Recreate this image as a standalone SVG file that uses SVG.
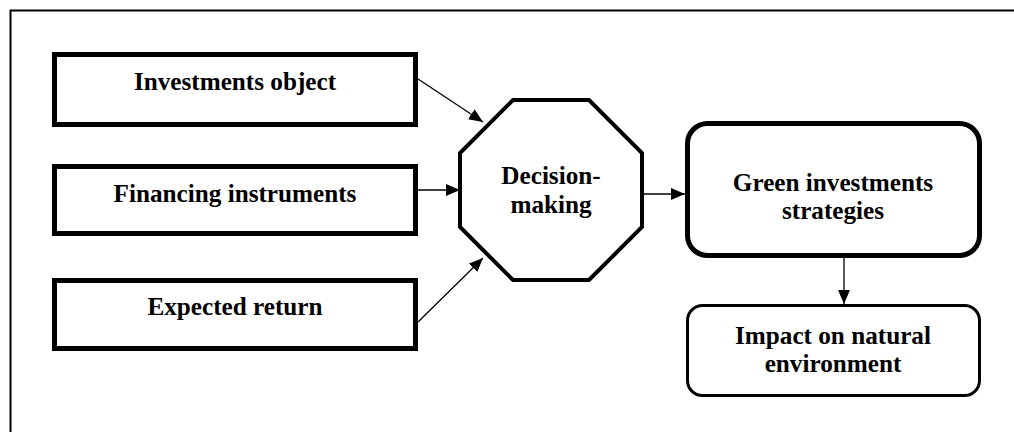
<svg xmlns="http://www.w3.org/2000/svg" width="1014" height="432" viewBox="0 0 1014 432">
<style>
text{font-family:"Liberation Serif","Times New Roman",serif;font-weight:bold;font-size:25.2px;fill:#000;text-anchor:middle}
.box{fill:#fff;stroke:#000;stroke-width:5}
.conn line{stroke:#000;stroke-width:1.3;fill:none}
</style>
<defs>
<marker id="ah" markerWidth="14" markerHeight="12" refX="14" refY="6" orient="auto" markerUnits="userSpaceOnUse">
<path d="M0,0 L14,6 L0,12 Z" fill="#000"/>
</marker>
</defs>
<rect x="10.5" y="10.5" width="1010" height="430" fill="#fff" stroke="#000" stroke-width="2"/>
<g id="n1"><rect class="box" x="54.5" y="54.5" width="361" height="70"/><text x="235" y="90">Investments object</text></g>
<g id="n2"><rect class="box" x="54.5" y="166.5" width="361" height="67"/><text x="235" y="202">Financing instruments</text></g>
<g id="n3"><rect class="box" x="54.5" y="280.5" width="361" height="68"/><text x="235" y="315">Expected return</text></g>
<g id="n4"><polygon points="513,100 589,100 642,153 642,227 589,280 513,280 460,227 460,153" fill="#fff" stroke="#000" stroke-width="4"/><text x="551" y="184">Decision-</text><text x="551" y="213">making</text></g>
<g id="n5"><rect x="687.5" y="123.5" width="292" height="132" rx="20" fill="#fff" stroke="#000" stroke-width="5"/><text x="833" y="191">Green investments</text><text x="833" y="219">strategies</text></g>
<g id="n6"><rect x="687.5" y="305.5" width="292" height="90" rx="15" fill="#fff" stroke="#000" stroke-width="3"/><text x="833" y="344">Impact on natural</text><text x="833" y="372">environment</text></g>
<g id="connectors" class="conn">
<line x1="418" y1="79" x2="483" y2="122" marker-end="url(#ah)"/>
<line x1="418" y1="190" x2="460" y2="190" marker-end="url(#ah)"/>
<line x1="418" y1="322" x2="483" y2="258" marker-end="url(#ah)"/>
<line x1="644" y1="194" x2="685" y2="194" marker-end="url(#ah)"/>
<line x1="844" y1="258" x2="844" y2="304" marker-end="url(#ah)"/>
</g>
</svg>
